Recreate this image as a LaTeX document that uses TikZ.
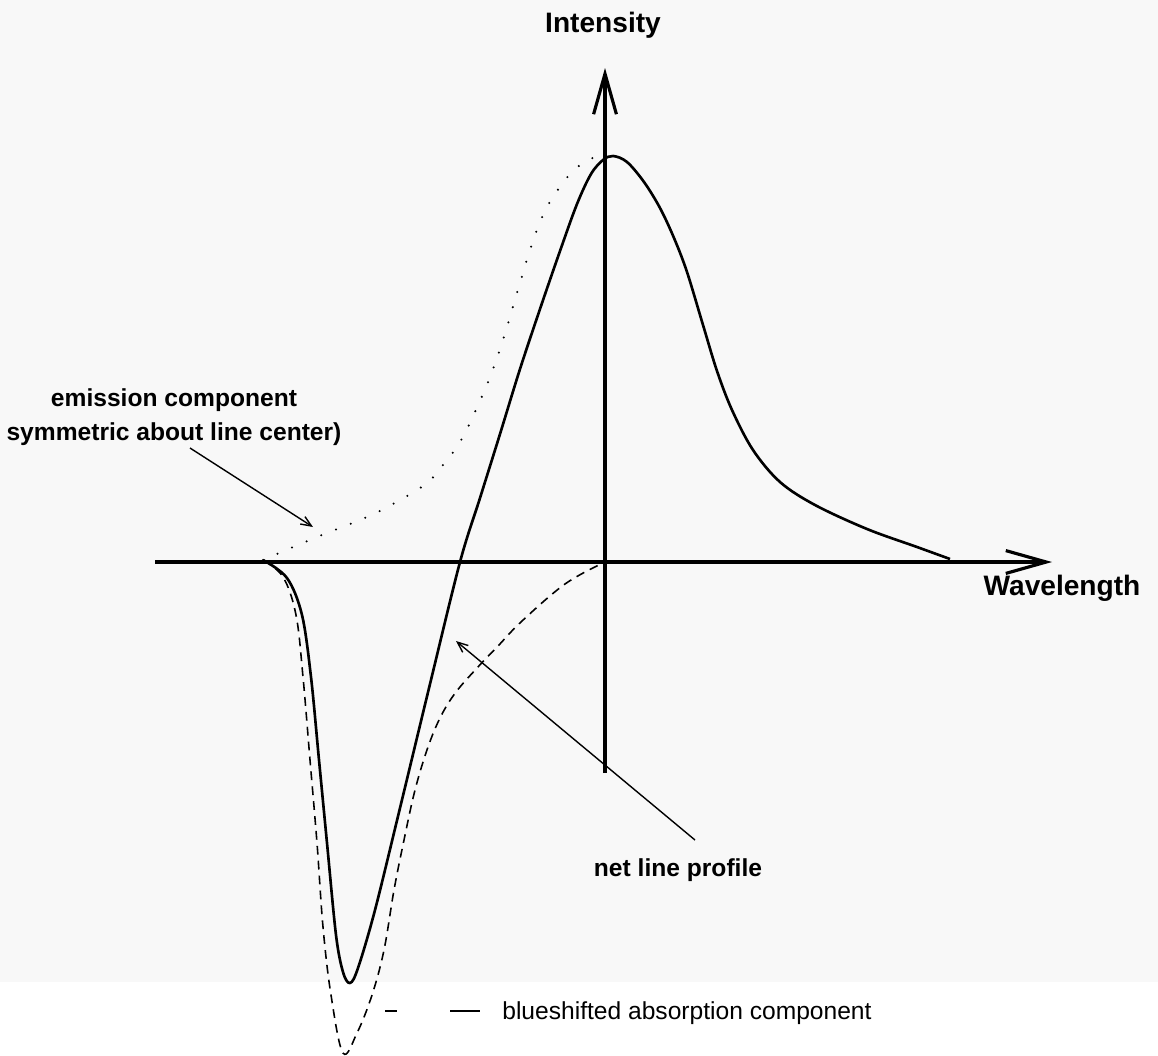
\documentclass[tikz,border=0pt]{standalone}
\usepackage{fontspec}
\setmainfont{Liberation Sans}
\usetikzlibrary{arrows.meta}
\definecolor{paper}{RGB}{248,248,248}

\begin{document}
\begin{tikzpicture}[x=0.02cm, y=-0.02cm, line join=round,
  axis/.style={line width=1.8pt, -{Straight Barb[length=23pt,width=13pt,line width=1.8pt]}},
  net/.style={line width=1.5pt},
  emis/.style={line width=1.3pt, line cap=round, dash pattern=on 0pt off 9pt},
  absn/.style={line width=0.9pt, dash pattern=on 5pt off 3.5pt},
  note/.style={line width=0.8pt, -{Straight Barb[length=6pt,width=5pt]}},
  lbl/.style={font=\fontsize{14}{19.5}\selectfont\bfseries, inner sep=0pt, align=center},
  axlbl/.style={font=\fontsize{16}{19}\selectfont\bfseries, inner sep=0pt}]
\useasboundingbox (0,0) rectangle (1158,1055);
\fill[paper] (0,0) rectangle (1158,982);
% axes
\coordinate (xfrom) at (155,562); \coordinate (xto) at (1052,562);
\coordinate (yfrom) at (605,773); \coordinate (yto) at (605,68);
\draw[axis] (xfrom) -- (xto);
\draw[axis] (yfrom) -- (yto);
\node[axlbl] (intensity) at (603,25) {Intensity};
\node[axlbl] (wavelength) at (1062,588) {Wavelength};
% emission component (dotted)
\draw[emis] plot[smooth, tension=0.6] coordinates {(263,560) (317,537) (367,517) (400,500) (427,483) (443,465) (460,442) (475,412) (490,377) (503,340) (517,293) (530,250) (543,215) (557,191) (573,171) (590,159) (605,155)};
% blueshifted absorption component (dashed)
\draw[absn] plot[smooth, tension=0.6] coordinates {(263,560) (283,577) (296,615) (303,677) (310,760) (317,843) (323,927) (331,995) (343,1053) (357,1033) (372,995) (384,950) (394,890) (404,840) (415,790) (428,747) (441,716) (456,692) (477,668) (498,646) (522,621) (565,584) (603,563)};
% net line profile
\draw[net] plot[smooth, tension=0.55] coordinates {(263,560) (287,578) (302,615) (311,677) (319,760) (327,843) (336,935) (343,972) (350,983) (358,968) (375,910) (400,808) (430,684) (460,562) (480,498) (500,434) (520,369) (540,309) (560,251) (577,204) (591,174) (603,160) (613,156) (627,162) (644,182) (660,208) (674,238) (687,272) (703,325) (717,371) (732,410) (753,450) (780,482) (815,505) (867,529) (917,547) (950,559)};
% labels and pointers
\node[lbl] (emislbl) at (174,417) {emission component\\symmetric about line center)};
\coordinate (emisfrom) at (190,448); \coordinate (emisto) at (313,527);
\draw[note] (emisfrom) -- (emisto);
\node[lbl] (netlbl) at (678,870) {net line profile};
\coordinate (netfrom) at (695,840); \coordinate (netto) at (456,641);
\draw[note] (netfrom) -- (netto);
% legend
\coordinate (keya) at (385,1011); \coordinate (keyb) at (480,1011);
\draw[line width=0.9pt, dash pattern=on 7pt off 30pt on 17pt] (keya) -- (keyb);
\node[font=\fontsize{14}{17}\selectfont, inner sep=0pt, anchor=west] (abslbl) at (502,1013) {blueshifted absorption component};
\end{tikzpicture}
\end{document}
